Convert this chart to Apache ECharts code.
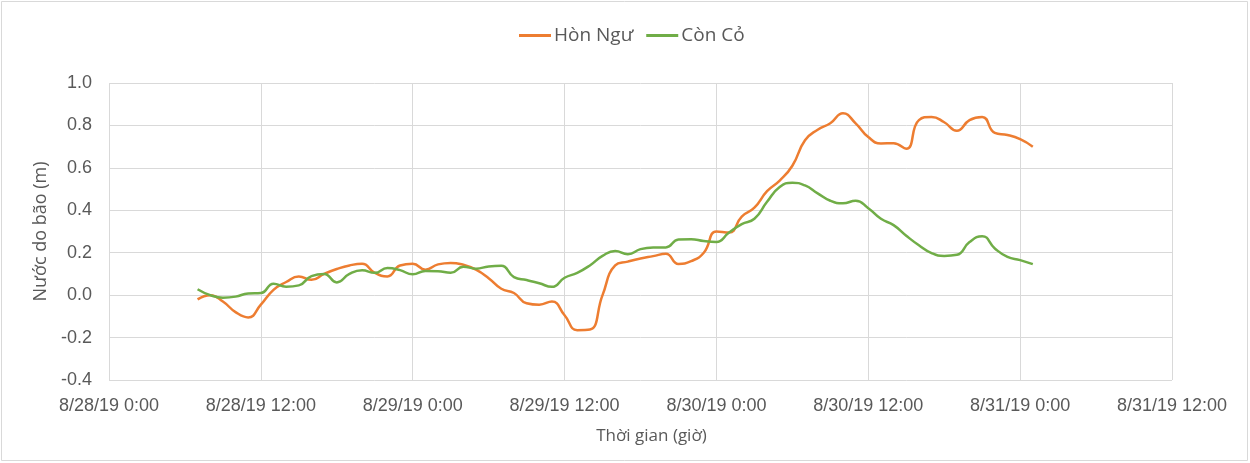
<!DOCTYPE html>
<html><head><meta charset="utf-8">
<script src="https://cdn.jsdelivr.net/npm/echarts@6/dist/echarts.min.js"></script>
<style>html,body{margin:0;padding:0;background:#fff}#c{width:1250px;height:463px}</style>
</head><body><div id="c"></div>
<script>
// hours since 8/28/19 0:00
const hours = [7,8,9,10,11,12,13,14,15,16,17,18,19,20,21,22,23,24,25,26,27,28,29,30,31,32,33,34,35,36,37,38,39,40,41,42,43,44,45,46,47,48,49,50,51,52,53,54,55,56,57,58,59,60,61,62,63,64,65,66,67,68,69,70,71,72,73];
const honNgu = [-0.02,0.0,-0.03,-0.08,-0.105,-0.045,0.025,0.062,0.088,0.072,0.10,0.123,0.14,0.148,0.105,0.088,0.14,0.148,0.12,0.145,0.152,0.143,0.12,0.08,0.03,0.01,-0.038,-0.045,-0.03,-0.095,-0.165,-0.162,0.0,0.14,0.158,0.173,0.184,0.195,0.147,0.16,0.2,0.3,0.295,0.37,0.412,0.49,0.54,0.61,0.73,0.78,0.81,0.857,0.81,0.745,0.715,0.716,0.69,0.825,0.84,0.815,0.775,0.825,0.84,0.765,0.755,0.735,0.70];
const conCo = [0.028,0.0,-0.012,-0.007,0.008,0.01,0.054,0.04,0.046,0.09,0.10,0.06,0.10,0.117,0.105,0.128,0.118,0.098,0.114,0.113,0.105,0.134,0.125,0.135,0.138,0.085,0.071,0.056,0.039,0.082,0.105,0.14,0.185,0.208,0.193,0.217,0.225,0.225,0.262,0.264,0.255,0.251,0.295,0.335,0.36,0.44,0.51,0.53,0.517,0.48,0.445,0.433,0.445,0.41,0.36,0.33,0.28,0.235,0.198,0.185,0.19,0.25,0.278,0.22,0.18,0.165,0.146];
const xTickLabels = ['8/28/19 0:00','8/28/19 12:00','8/29/19 0:00','8/29/19 12:00','8/30/19 0:00','8/30/19 12:00','8/31/19 0:00','8/31/19 12:00'];
const seriesNames = ['Hòn Ngư','Còn Cỏ'];

const tickFont = 'Liberation Sans';
const titleFont = '"Open Sans"';
const chart = echarts.init(document.getElementById('c'), null, {renderer:'canvas'});
chart.setOption({
  animation:false,
  backgroundColor:'#fff',
  graphic:[{type:'rect',shape:{x:1.5,y:1.5,width:1246,height:459},style:{fill:'none',stroke:'#d9d9d9',lineWidth:1},silent:true}],
  legend:{top:21,left:514,itemWidth:32,itemHeight:3,itemGap:13,icon:'rect',
    textStyle:{color:'#595959',fontSize:19,fontFamily:titleFont,padding:[0,0,0,-2]},data:seriesNames},
  grid:{left:109,right:78,top:83,bottom:83},
  xAxis:{type:'value',min:0,max:84,interval:12,
    name:'Thời gian (giờ)',nameLocation:'middle',nameGap:48,
    nameTextStyle:{color:'#595959',fontSize:17,fontFamily:titleFont,padding:[0,0,0,22]},
    axisLine:{show:false},axisTick:{show:false},
    axisLabel:{color:'#595959',fontSize:18,fontFamily:tickFont,margin:17,
      formatter:v=>xTickLabels[Math.round(v/12)]||''},
    splitLine:{show:true,lineStyle:{color:'#d9d9d9',width:1}}},
  yAxis:{type:'value',min:-0.4,max:1.0,interval:0.2,
    name:'Nước do bão (m)',nameLocation:'middle',nameGap:52,
    nameTextStyle:{color:'#595959',fontSize:18,fontFamily:titleFont},
    axisLine:{show:false},axisTick:{show:false},
    axisLabel:{color:'#595959',fontSize:18,fontFamily:tickFont,margin:17,formatter:v=>v.toFixed(1)},
    splitLine:{show:true,lineStyle:{color:'#d9d9d9',width:1}}},
  series:[
    {name:seriesNames[0],type:'line',smooth:0.5,showSymbol:false,color:'#ED7D31',
     lineStyle:{width:2.5,color:'#ED7D31'},data:hours.map((h,i)=>[h,honNgu[i]])},
    {name:seriesNames[1],type:'line',smooth:0.5,showSymbol:false,color:'#70AD47',
     lineStyle:{width:2.5,color:'#70AD47'},data:hours.map((h,i)=>[h,conCo[i]])}
  ]
});
</script></body></html>
